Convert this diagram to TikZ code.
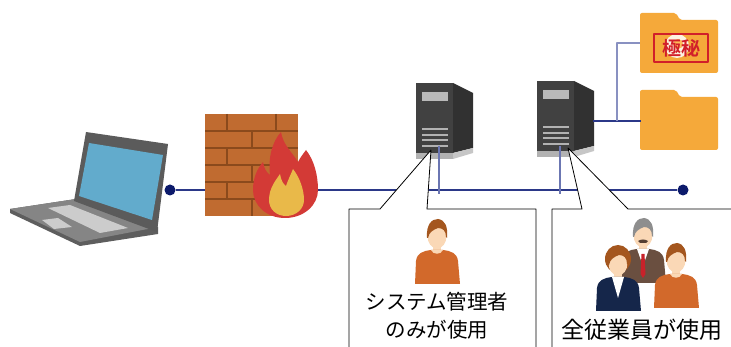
\documentclass[tikz,border=0pt]{standalone}
\usepackage{fontspec}
\usepackage{xcolor}
\usepackage{tikz}
\newfontfamily\jp{Noto Sans CJK JP}
\newfontfamily\jpbold{Noto Sans CJK JP Bold}

\definecolor{lan}{HTML}{2B3888}
\definecolor{landot}{HTML}{0C1A6B}
\definecolor{tap}{HTML}{6B76B2}
\definecolor{brick}{HTML}{C06B30}
\definecolor{mortar}{HTML}{8B4A1C}
\definecolor{flame}{HTML}{D33A36}
\definecolor{flamecore}{HTML}{E9B949}
\definecolor{casing}{HTML}{414141}
\definecolor{casingside}{HTML}{313131}
\definecolor{bezel}{HTML}{5B5B5B}
\definecolor{lcd}{HTML}{62ABCC}
\definecolor{folder}{HTML}{F5A93A}
\definecolor{stamp}{HTML}{D11F2A}
\definecolor{skin}{HTML}{FAD8B6}
\definecolor{hairbrown}{HTML}{A4561E}
\definecolor{shirt}{HTML}{D2692B}
\definecolor{jacket}{HTML}{15264A}
\definecolor{suit}{HTML}{6A4F40}
\definecolor{greyhair}{HTML}{8E8E8E}
\definecolor{tie}{HTML}{C8222A}

% server tower, #1 = top left corner of the front panel
\newcommand{\tower}[1]{%
\begin{scope}[shift={#1}]
  \fill[casing] (0,0) rectangle (37,70);
  \fill[casingside] (37,0) -- (57,10) -- (57,65) -- (37,70) -- cycle;
  \fill[gray!60] (0,70) rectangle (37,76);
  \fill[gray!45] (37,70) -- (57,65) -- (57,70) -- (37,76) -- cycle;
  \fill[gray!55] (6,9) rectangle (32,18);
  \foreach \y in {46,52,57,63}
    \draw[gray!60, line width=1.3] (6,\y) -- (32,\y);
\end{scope}}

% folder, #1 = top left corner of the tab
\newcommand{\folder}[1]{%
\begin{scope}[shift={#1}]
  \fill[folder, rounded corners=2] (0,60) -- (0,0) -- (36,0) -- (40,7) -- (78,7) -- (78,60) -- cycle;
\end{scope}}

% person, #1 = head centre, #2 = hair, #3 = clothes
\newcommand{\person}[3]{%
\begin{scope}[shift={#1}]
  \fill[skin] (-4,6) rectangle (4,16);
  \fill[#3] (-22,48) -- (-21,25) .. controls (-20,17) and (-14,15) .. (-6,14)
    -- (6,14) .. controls (14,15) and (20,17) .. (21,25) -- (23,48) -- cycle;
  \fill[skin] (-6,14) .. controls (-4,19) and (4,19) .. (6,14) -- cycle;
  \fill[skin] (0,0) ellipse [x radius=9.5, y radius=12.5];
  \fill[#2] (-10,2) .. controls (-11,-12) and (-5,-17) .. (1,-17)
    .. controls (8,-16) and (11,-10) .. (10,2) -- (9,1)
    .. controls (9,-5) and (6,-8) .. (1,-8) .. controls (-4,-6) and (-8,-4) .. (-9,2) -- cycle;
\end{scope}}

\begin{document}
\begin{tikzpicture}[x=1pt, y=-1pt, line join=round]
\tikzstyle{dot}=[circle, fill=landot, inner sep=0pt, minimum size=11pt]
\tikzstyle{wire}=[lan, line width=1.1pt]
\tikzstyle{branch}=[tap, line width=1.1pt]
\tikzstyle{callout}=[fill=white, draw=black, line width=0.8pt]
\tikzstyle{every node}=[font=\jp]

\useasboundingbox (0,0) rectangle (731,347);
\clip (0,0) rectangle (731,347);
\fill[white] (0,0) rectangle (731,347);

% LAN
\node[dot] (lan-l) at (170,190) {};
\node[dot] (lan-r) at (683,190) {};
\draw[wire] (lan-l) -- (lan-r);

% laptop
\fill[black!63] (10,209) -- (76,199) -- (158,227) -- (158,234) -- (80,246) -- (10,213) -- cycle;
\fill[black!48] (10,209) -- (76,199) -- (158,227) -- (80,242) -- cycle;
\fill[black!20] (48,208) -- (70,205) -- (128,228) -- (100,233) -- cycle;
\fill[black!20] (42,220) -- (58,218) -- (72,227) -- (54,229) -- cycle;
\fill[bezel] (86,132) -- (168,144) -- (157,232) -- (74,201) -- cycle;
\fill[lcd] (89,143) -- (163,155) -- (152,220) -- (79,196) -- cycle;

% firewall
\fill[brick] (205,114) rectangle (298,216);
\foreach \y in {131,148,165,182,199}
  \draw[mortar, line width=1.2] (205,\y) -- (298,\y);
\foreach \y in {114,148,182}{
  \draw[mortar, line width=1.2] (227,\y) -- ++(0,17);
  \draw[mortar, line width=1.2] (276,\y) -- ++(0,17);
  \draw[mortar, line width=1.2] (252,\y+17) -- ++(0,17);
}
\fill[flame] (285,218) .. controls (266,218) and (253,205) .. (253,190)
  .. controls (253,178) and (257,169) .. (263,162)
  .. controls (264,168) and (266,172) .. (270,175)
  .. controls (268,158) and (272,142) .. (281,132)
  .. controls (283,145) and (292,152) .. (298,162)
  .. controls (300,158) and (303,154) .. (306,150)
  .. controls (314,160) and (318,175) .. (318,190)
  .. controls (318,205) and (304,218) .. (285,218) -- cycle;
\fill[flamecore] (286,216) .. controls (276,216) and (269,209) .. (269,200)
  .. controls (269,188) and (276,180) .. (280,174)
  .. controls (281,180) and (283,184) .. (286,186)
  .. controls (288,180) and (291,174) .. (293,169)
  .. controls (300,178) and (304,190) .. (304,200)
  .. controls (304,209) and (296,216) .. (286,216) -- cycle;

% servers
\coordinate (srv1-tap) at (439,146);
\coordinate (srv1-bus) at (439,194);
\coordinate (srv2-tap) at (560,146);
\coordinate (srv2-bus) at (560,194);
\coordinate (srv2-out) at (593,121);
\tower{(416,83)}
\tower{(537,81)}
\draw[branch] (srv1-tap) -- (srv1-bus);
\draw[branch] (srv2-tap) -- (srv2-bus);

% file shares
\folder{(640,13)}
\folder{(640,90)}
\coordinate (fork) at (617,121);
\coordinate (share1) at (640,43);
\coordinate (share2) at (641,121);
\draw[wire] (srv2-out) -- (share2);
\draw[branch, tap!80] (fork) |- (share1);
\fill[white, opacity=.85] (677,46) circle (12);
\fill[orange!80!yellow, opacity=.6] (678,44) circle (5);
\draw[stamp, line width=1.4] (654,34) rectangle (708,62);
\node[text=stamp, font=\jpbold\fontsize{19}{19}\selectfont] (secret) at (681,48) {極秘};

% callouts
\coordinate (srv1-port) at (431,150);
\coordinate (srv2-port) at (568,148);
\path[callout] (349,352) -- (349,209) -- (380,209) -- (srv1-port) -- (427,209) -- (536,209) -- (536,352);
\path[callout] (552,352) -- (552,209) -- (582,209) -- (srv2-port) -- (628,209) -- (740,209) -- (740,352);

% users
\person{(437,236)}{hairbrown}{shirt}
\node[align=center, font=\jp\fontsize{20.5}{28}\selectfont] (admin) at (437,316) {システム管理者\\のみが使用};

\person{(643,235)}{greyhair}{suit}
\fill[white] (637,249) -- (649,249) -- (643,266) -- cycle;
\fill[tie] (641.5,254) -- (644.5,254) -- (645.5,274) -- (643,278) -- (640.5,274) -- cycle;
\fill[suit!80!black] (638,241) .. controls (641,239) and (645,239) .. (648,241) -- (646,243) -- (640,243) -- cycle;
\fill[hairbrown] (618,259) ellipse [x radius=13, y radius=14];
\person{(618,263)}{hairbrown}{jacket}
\fill[white] (612,277) -- (624,277) -- (618,298) -- cycle;
\person{(676,260)}{hairbrown}{shirt}
\node[font=\jp\fontsize{23}{28}\selectfont] (staff) at (642,330) {全従業員が使用};
\end{tikzpicture}
\end{document}
